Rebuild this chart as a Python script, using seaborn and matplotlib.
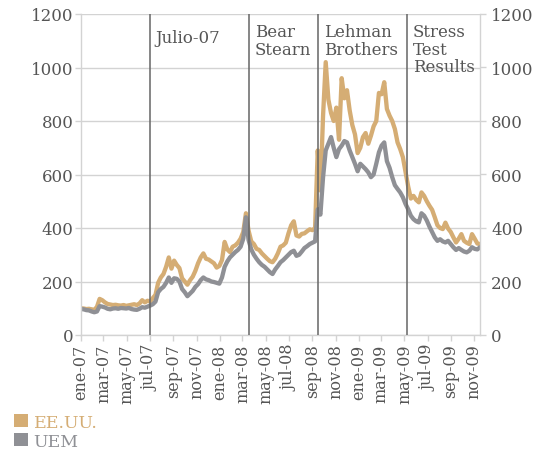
import pandas as pd
import matplotlib
matplotlib.use("Agg")
import matplotlib.pyplot as plt
import matplotlib.dates as mdates
from matplotlib.patches import Patch
import seaborn as sb

# Datos semanales (lunes) desde ene-07 hasta nov-09
fechas = pd.date_range("2007-01-01", periods=151, freq="7D")

eeuu = [100, 99, 97, 98, 96, 94, 105, 135, 130, 122,
        116, 114, 112, 113, 111, 110, 112, 109, 111, 113,
        115, 112, 118, 130, 122, 128, 125, 138, 150, 195,
        215, 228, 255, 290, 248, 278, 262, 250, 212, 200,
        188, 205, 218, 240, 268, 290, 305, 285, 282, 275,
        268, 252, 258, 280, 348, 320, 310, 330, 335, 345,
        360, 385, 455, 390, 350, 340, 322, 318, 305, 295,
        285, 276, 272, 285, 305, 330, 335, 345, 380, 410,
        425, 372, 368, 378, 380, 388, 395, 392, 400, 690,
        540, 820, 1020, 880, 830, 800, 850, 730, 960, 885,
        915, 840, 785, 750, 680, 700, 740, 755, 715, 745,
        780, 800, 905, 900, 945, 845, 820, 800, 770, 720,
        695, 665, 610, 555, 510, 520, 505, 496, 533, 520,
        500, 483, 468, 440, 410, 400, 396, 420, 398, 385,
        365, 346, 360, 377, 352, 345, 340, 377, 360, 342,
        340]

uem = [97, 96, 93, 92, 88, 85, 88, 108, 106, 103,
       98, 96, 99, 100, 98, 101, 100, 99, 101, 97,
       95, 94, 98, 104, 102, 106, 110, 115, 125, 160,
       172, 180, 195, 215, 195, 212, 210, 200, 172, 160,
       145, 155, 165, 180, 190, 205, 215, 208, 205, 200,
       198, 195, 192, 215, 255, 275, 290, 300, 310, 318,
       330, 360, 440, 355, 320, 300, 285, 272, 262, 255,
       245, 235, 228, 245, 258, 272, 280, 290, 300, 310,
       315, 296, 300, 312, 325, 332, 340, 345, 350, 470,
       450, 590, 690, 715, 740, 700, 665, 695, 708, 725,
       720, 690, 665, 640, 612, 640, 630, 620, 608, 590,
       600, 640, 683, 708, 720, 650, 625, 590, 560, 546,
       533, 515, 490, 470, 446, 433, 425, 421, 455, 446,
       428, 405, 385, 365, 352, 358, 350, 346, 352, 340,
       328, 318, 325, 318, 312, 309, 315, 328, 322, 320,
       328]

eventos = ["Julio-07", "Bear\nStearn", "Lehman\nBrothers", "Stress\nTest\nResults"]
fechas_eventos = ["2007-07-01", "2008-03-17", "2008-09-15", "2009-05-07"]
desplaz_y = [0.953, 0.972, 0.972, 0.972]

meses_ticks = ["2007-01-01", "2007-03-01", "2007-05-01", "2007-07-01", "2007-09-01",
               "2007-11-01", "2008-01-01", "2008-03-01", "2008-05-01", "2008-07-01",
               "2008-09-01", "2008-11-01", "2009-01-01", "2009-03-01", "2009-05-01",
               "2009-07-01", "2009-09-01", "2009-11-01"]
etiquetas_ticks = ["ene-07", "mar-07", "may-07", "jul-07", "sep-07", "nov-07",
                   "ene-08", "mar-08", "may-08", "jul-08", "sep-08", "nov-08",
                   "ene-09", "mar-09", "may-09", "jul-09", "sep-09", "nov-09"]
valores_y = [0, 200, 400, 600, 800, 1000, 1200]

color_eeuu = "#D5AD74"
color_uem = "#8F9095"
color_texto = "#555555"
color_grid = "#D3D3D3"

sb.set_style("white")
plt.rcParams["font.family"] = ["DejaVu Serif"]

fig = plt.figure(figsize=(5.36, 4.52), dpi=100)
ax = fig.add_axes([81 / 536, 1 - 336 / 452, 399 / 536, 321 / 452])

df = pd.DataFrame({"fecha": fechas, "EE.UU.": eeuu, "UEM": uem})

sb.lineplot(x=df["fecha"], y=df["EE.UU."], color=color_eeuu, linewidth=3.1, ax=ax)
sb.lineplot(x=df["fecha"], y=df["UEM"], color=color_uem, linewidth=3.1, ax=ax)

ax.set_ylim(0, 1200)
ax.set_xlim(mdates.date2num(pd.Timestamp("2007-01-01")), mdates.date2num(fechas[-1]))
ax.set_yticks(valores_y)
ax.yaxis.grid(True, color=color_grid, linewidth=1)
ax.set_axisbelow(True)

ax.set_xticks([mdates.date2num(pd.Timestamp(m)) for m in meses_ticks])
ax.set_xticklabels(etiquetas_ticks, rotation=90)

for lado in ["left", "right", "bottom"]:
    ax.spines[lado].set_color(color_grid)
    ax.spines[lado].set_linewidth(1)
ax.spines["top"].set_visible(False)

ax.tick_params(axis="both", colors=color_grid, labelcolor=color_texto,
               length=4, width=1)
ax.tick_params(axis="x", labelsize=11.5, pad=2, bottom=True)
ax.tick_params(axis="y", labelsize=12, pad=1.5, left=True)
ax.set_xlabel("")
ax.set_ylabel("")

# Eje derecho con las mismas etiquetas
ax2 = ax.twinx()
ax2.set_ylim(0, 1200)
ax2.set_yticks(valores_y)
ax2.tick_params(axis="y", colors=color_grid, labelcolor=color_texto,
                length=4, width=1, labelsize=12, pad=4)
for lado in ["left", "right", "bottom", "top"]:
    ax2.spines[lado].set_visible(False)

# Líneas verticales de eventos
for texto, f, yy in zip(eventos, fechas_eventos, desplaz_y):
    x_ev = mdates.date2num(pd.Timestamp(f))
    ax.axvline(x_ev, color="#666666", linewidth=1.1, zorder=5)
    ax.annotate(texto, xy=(x_ev, yy), xycoords=ax.get_xaxis_transform(),
                xytext=(6, 0), textcoords="offset pixels", ha="left", va="top",
                fontsize=12, color=color_texto, linespacing=1.05)

# Leyenda
manejadores = [Patch(facecolor=color_eeuu, edgecolor="none", label="EE.UU."),
               Patch(facecolor=color_uem, edgecolor="none", label="UEM")]
leg = fig.legend(handles=manejadores, loc="lower left",
                 bbox_to_anchor=(4 / 536, -9 / 452), frameon=False,
                 fontsize=12.5, handlelength=0.8, handleheight=0.8,
                 handletextpad=0.3, labelspacing=0.1, borderpad=0.1)
for txt, c in zip(leg.get_texts(), [color_eeuu, color_uem]):
    txt.set_color(c)

fig.savefig("out.png", dpi=100)
